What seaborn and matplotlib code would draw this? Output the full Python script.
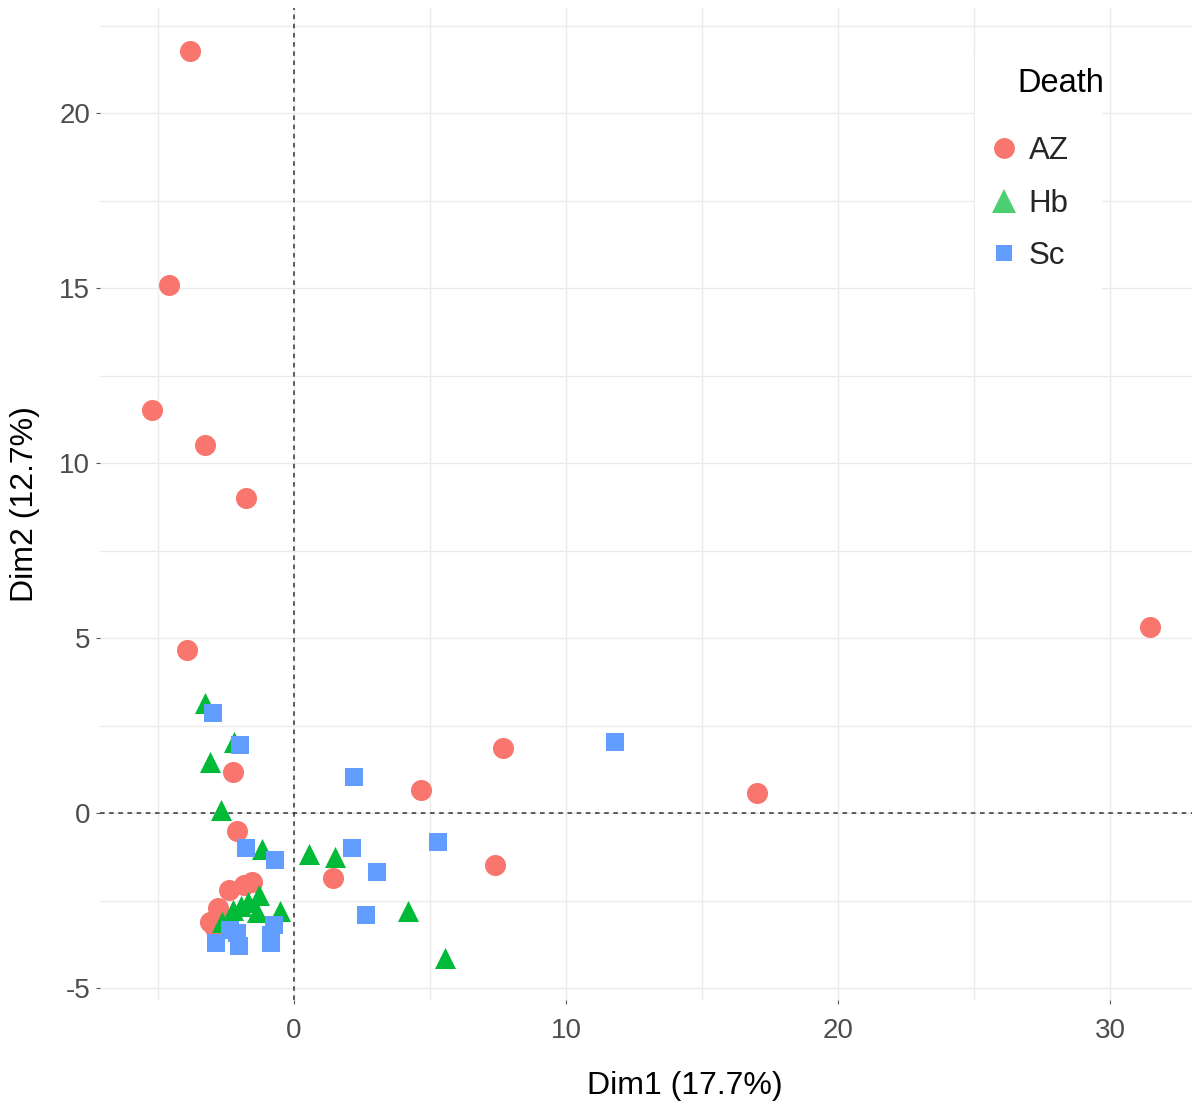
import matplotlib
matplotlib.use("Agg")
import matplotlib.pyplot as plt
import seaborn as sns
import pandas as pd
from matplotlib.lines import Line2D
from matplotlib.patches import Rectangle

# AZ group
az_x = [-3.82, -4.60, -5.22, -3.27, -1.76, -3.93, 31.47, 7.68, 4.67, 17.02, -2.24, -2.10, 1.43, 7.39,
        -2.39, -1.84, -1.54, -2.79, -3.09, -2.90]
az_y = [21.77, 15.09, 11.51, 10.51, 9.00, 4.66, 5.31, 1.86, 0.66, 0.57, 1.17, -0.51, -1.86, -1.49,
        -2.20, -2.06, -1.97, -2.71, -3.11, -3.29]
# Hb group
hb_x = [-3.27, -2.21, -3.09, -2.68, -1.18, 0.55, 1.51, 4.19, 5.55,
        -2.65, -2.24, -1.95, -1.69, -1.29, -1.36, -0.51]
hb_y = [3.14, 2.03, 1.46, 0.09, -1.03, -1.17, -1.26, -2.80, -4.14,
        -3.11, -2.77, -2.66, -2.54, -2.34, -2.83, -2.80]
# Sc group
sc_x = [-2.98, -1.99, 2.21, 11.80, -1.76, -0.70, 2.13, 3.05, 2.65, 5.29,
        -2.87, -2.02, -0.85, -0.85, -0.74, -2.10, -2.35]
sc_y = [2.86, 1.94, 1.03, 2.03, -1.00, -1.34, -1.00, -1.69, -2.91, -0.83,
        -3.71, -3.80, -3.71, -3.49, -3.20, -3.43, -3.34]

groups = ["AZ", "Hb", "Sc"]
colors = {"AZ": "#F8766D", "Hb": "#00BA38", "Sc": "#619CFF"}
markers = {"AZ": "o", "Hb": "^", "Sc": "s"}
sizes = {"AZ": 230, "Hb": 230, "Sc": 150}

df = pd.concat([
    pd.DataFrame({"Dim1": az_x, "Dim2": az_y, "Death": "AZ"}),
    pd.DataFrame({"Dim1": hb_x, "Dim2": hb_y, "Death": "Hb"}),
    pd.DataFrame({"Dim1": sc_x, "Dim2": sc_y, "Death": "Sc"}),
], ignore_index=True)

sns.set_style("white")
plt.rcParams['font.family'] = ['Liberation Sans', 'DejaVu Sans']

W, H = 1192, 1106
fig = plt.figure(figsize=(W / 100, H / 100), dpi=100)
ax = fig.add_axes([100/W, 1 - 1000/H, 1 - 100/W, (1000 - 8)/H])

ax.set_xlim(-7.13, 33.0)
ax.set_ylim(-5.34, 23.0)

# grid
for v in [-5, 0, 5, 10, 15, 20, 25, 30]:
    ax.axvline(v, color="#EBEBEB", lw=1.0, zorder=0)
for v in [-5, -2.5, 0, 2.5, 5, 7.5, 10, 12.5, 15, 17.5, 20, 22.5]:
    ax.axhline(v, color="#EBEBEB", lw=1.0, zorder=0)

ax.axvline(0, color="#333333", lw=1.1, ls=(0, (3, 3)), zorder=1)
ax.axhline(0, color="#333333", lw=1.1, ls=(0, (3, 3)), zorder=1)

for g in groups:
    sub = df[df["Death"] == g]
    sns.scatterplot(data=sub, x="Dim1", y="Dim2", color=colors[g], marker=markers[g],
                    s=sizes[g], linewidth=0, ax=ax, zorder=3, legend=False)

for s in ax.spines.values():
    s.set_visible(False)

ax.set_xticks([0, 10, 20, 30])
ax.set_yticks([-5, 0, 5, 10, 15, 20])
ax.set_xticklabels(["0", "10", "20", "30"])
ax.set_yticklabels(["-5", "0", "5", "10", "15", "20"])
ax.tick_params(axis="both", which="major", labelsize=20, labelcolor="#4D4D4D",
               color="#555555", length=3, width=0.8, direction="out", pad=4,
               bottom=True, left=True)
ax.tick_params(axis="x", pad=10)
ax.set_xlabel("Dim1 (17.7%)", fontsize=23, color="black")
ax.set_ylabel("Dim2 (12.7%)", fontsize=23, color="black", labelpad=14)
ax.xaxis.set_label_coords(0.5357, -0.0716)

# legend background box and title
ax.add_patch(Rectangle((975/W, 1 - 292/H), (1102 - 975)/W, (292 - 55)/H,
                       transform=fig.transFigure, facecolor="white",
                       edgecolor="none", zorder=4, clip_on=False))
ax.text(1017/W, 1 - 84/H, "Death", transform=fig.transFigure, fontsize=23.5,
        color="black", ha="left", va="center", zorder=5, clip_on=False)

handles = [
    Line2D([], [], marker="o", color=colors["AZ"], ls="", markersize=15, markeredgewidth=0),
    Line2D([], [], marker="^", color=colors["Hb"], alpha=0.7, ls="", markersize=17, markeredgewidth=0),
    Line2D([], [], marker="s", color=colors["Sc"], ls="", markersize=11, markeredgewidth=0),
]
leg = ax.legend(handles, groups, loc="upper left",
                bbox_to_anchor=(988/W, 1 - 136/H), bbox_transform=fig.transFigure,
                fontsize=22.5, frameon=False, borderpad=0, borderaxespad=0,
                handletextpad=0.3, labelspacing=0.72, handlelength=1.0)
leg.set_zorder(6)

fig.savefig("out.png", dpi=100)
